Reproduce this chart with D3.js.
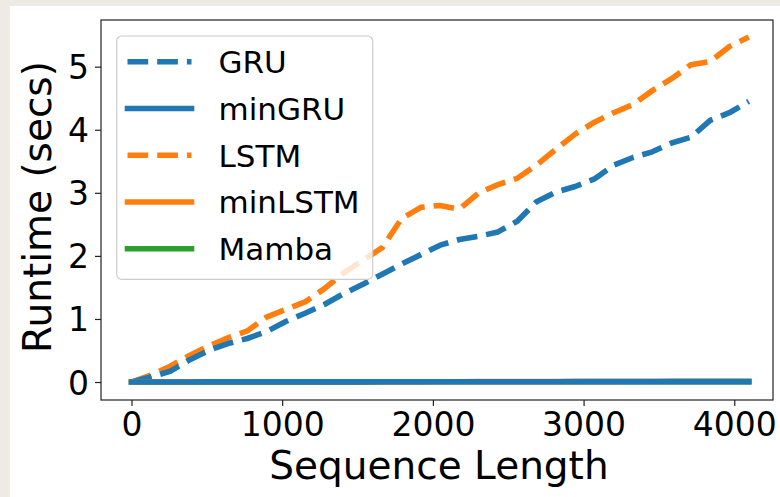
<!DOCTYPE html>
<html lang="en">
<head>
  <meta charset="UTF-8">
  <title>Runtime vs Sequence Length</title>
  <script src="https://cdn.jsdelivr.net/npm/d3@7"></script>
  <style>
    html, body { margin: 0; padding: 0; background: #eeebe5; }
    svg { display: block; }
  </style>
</head>
<body>
  <script>
    // ------------- Data -------------
    const seqLengths = [0, 128, 256, 384, 512, 640, 768, 896, 1024, 1152, 1280, 1408, 1536,
                        1664, 1792, 1920, 2048, 2176, 2304, 2432, 2560, 2688, 2816, 2944,
                        3072, 3200, 3328, 3456, 3584, 3712, 3840, 3968, 4096];
    const gruRuntime = [0.00, 0.08, 0.17, 0.35, 0.50, 0.61, 0.69, 0.80, 0.96, 1.09, 1.23, 1.40, 1.55,
                        1.71, 1.87, 2.02, 2.17, 2.26, 2.31, 2.38, 2.55, 2.86, 3.01, 3.10,
                        3.22, 3.44, 3.56, 3.65, 3.79, 3.88, 4.15, 4.27, 4.45];
    const lstmRuntime = [0.00, 0.11, 0.25, 0.42, 0.57, 0.70, 0.81, 1.03, 1.15, 1.27, 1.48, 1.73, 1.93,
                         2.13, 2.59, 2.77, 2.80, 2.74, 3.00, 3.13, 3.23, 3.44, 3.69, 3.93,
                         4.12, 4.27, 4.40, 4.62, 4.81, 5.03, 5.08, 5.32, 5.47];
    const minGruRuntime = [0.000, 0.001, 0.001, 0.001, 0.002, 0.002, 0.002, 0.002, 0.003, 0.003, 0.003, 0.003, 0.003,
                           0.004, 0.004, 0.004, 0.004, 0.004, 0.005, 0.005, 0.005, 0.005, 0.005, 0.006,
                           0.006, 0.006, 0.006, 0.006, 0.007, 0.007, 0.007, 0.007, 0.007];
    const minLstmRuntime = [0.000, 0.001, 0.001, 0.002, 0.002, 0.002, 0.003, 0.003, 0.003, 0.003, 0.004, 0.004, 0.004,
                            0.004, 0.005, 0.005, 0.005, 0.005, 0.006, 0.006, 0.006, 0.006, 0.007, 0.007,
                            0.007, 0.007, 0.008, 0.008, 0.008, 0.008, 0.009, 0.009, 0.009];
    const mambaRuntime = [0.000, 0.001, 0.001, 0.001, 0.001, 0.002, 0.002, 0.002, 0.002, 0.002, 0.003, 0.003, 0.003,
                          0.003, 0.003, 0.003, 0.004, 0.004, 0.004, 0.004, 0.004, 0.004, 0.005, 0.005,
                          0.005, 0.005, 0.005, 0.005, 0.006, 0.006, 0.006, 0.006, 0.006];
    const xTicks = [0, 1000, 2000, 3000, 4000];
    const yTicks = [0, 1, 2, 3, 4, 5];

    // legend order vs drawing order differ: solid lines sit on top, blue last
    const series = [
      { name: "GRU",     values: gruRuntime,     color: "#1f77b4", dashed: true  },
      { name: "minGRU",  values: minGruRuntime,  color: "#1f77b4", dashed: false },
      { name: "LSTM",    values: lstmRuntime,    color: "#ff7f0e", dashed: true  },
      { name: "minLSTM", values: minLstmRuntime, color: "#ff7f0e", dashed: false },
      { name: "Mamba",   values: mambaRuntime,   color: "#2ca02c", dashed: false }
    ];
    const drawOrder = ["LSTM", "GRU", "Mamba", "minLSTM", "minGRU"];

    // ------------- Layout -------------
    const width = 780, height = 497;
    const plot = { left: 101, right: 773, top: 20, bottom: 400 };
    const lw = 5.6;
    const dash = "20.7,9";
    const font = "'DejaVu Sans', sans-serif";

    const svg = d3.select("body").append("svg")
      .attr("width", width)
      .attr("height", height);

    // white page area (beige strip left/top as in the screenshot)
    svg.append("rect")
      .attr("x", 10).attr("y", 6)
      .attr("width", width - 10).attr("height", height - 6)
      .attr("fill", "#ffffff");

    // ------------- Scales -------------
    const x = d3.scaleLinear().domain([-202.4, 4257]).range([plot.left, plot.right]);
    const y = d3.scaleLinear().domain([-0.285, 5.74]).range([plot.bottom, plot.top]);

    // ------------- Lines -------------
    const line = d3.line()
      .x((d, i) => x(seqLengths[i]))
      .y(d => y(d));

    drawOrder.forEach(name => {
      const s = series.find(t => t.name === name);
      svg.append("path")
        .attr("d", line(s.values))
        .attr("fill", "none")
        .attr("stroke", s.color)
        .attr("stroke-width", lw)
        .attr("stroke-linejoin", "round")
        .attr("stroke-linecap", s.dashed ? "butt" : "square")
        .attr("stroke-dasharray", s.dashed ? dash : null);
    });

    // ------------- Axes -------------
    const xAxis = svg.append("g")
      .attr("transform", `translate(0,${plot.bottom})`)
      .call(d3.axisBottom(x).tickValues(xTicks).tickFormat(d3.format("d"))
              .tickSize(6).tickPadding(6));
    xAxis.select(".domain").remove();
    xAxis.selectAll("line").attr("stroke", "#222").attr("stroke-width", 1.2);
    xAxis.selectAll("text")
      .attr("font-family", font).attr("font-size", 33).attr("fill", "#000")
      .attr("dy", null).attr("y", 36);

    const yAxis = svg.append("g")
      .attr("transform", `translate(${plot.left},0)`)
      .call(d3.axisLeft(y).tickValues(yTicks).tickFormat(d3.format("d"))
              .tickSize(6).tickPadding(6));
    yAxis.select(".domain").remove();
    yAxis.selectAll("line").attr("stroke", "#222").attr("stroke-width", 1.2);
    yAxis.selectAll("text")
      .attr("font-family", font).attr("font-size", 33).attr("fill", "#000")
      .attr("dy", null).attr("y", 12).attr("x", -12);

    // frame
    svg.append("rect")
      .attr("x", plot.left).attr("y", plot.top)
      .attr("width", plot.right - plot.left).attr("height", plot.bottom - plot.top)
      .attr("fill", "none")
      .attr("stroke", "#222")
      .attr("stroke-width", 1.2);

    // axis titles
    svg.append("text")
      .attr("x", 439).attr("y", 479)
      .attr("text-anchor", "middle")
      .attr("font-family", font).attr("font-size", 39)
      .text("Sequence Length");

    svg.append("text")
      .attr("transform", "translate(51,207) rotate(-90)")
      .attr("text-anchor", "middle")
      .attr("font-family", font).attr("font-size", 39)
      .text("Runtime (secs)");

    // ------------- Legend -------------
    const legend = svg.append("g");
    legend.append("rect")
      .attr("x", 116.7).attr("y", 36)
      .attr("width", 256).attr("height", 243.3)
      .attr("rx", 5).attr("ry", 5)
      .attr("fill", "#ffffff").attr("fill-opacity", 0.8)
      .attr("stroke", "#cccccc").attr("stroke-width", 1.2);

    series.forEach((s, i) => {
      const ly = 61.7 + i * 46.75;
      legend.append("line")
        .attr("x1", 127.5).attr("x2", 191.5)
        .attr("y1", ly).attr("y2", ly)
        .attr("stroke", s.color)
        .attr("stroke-width", lw)
        .attr("stroke-linecap", s.dashed ? "butt" : "square")
        .attr("stroke-dasharray", s.dashed ? dash : null);
      legend.append("text")
        .attr("x", 218.5).attr("y", ly + 11.3)
        .attr("font-family", font).attr("font-size", 31)
        .text(s.name);
    });
  </script>
</body>
</html>
